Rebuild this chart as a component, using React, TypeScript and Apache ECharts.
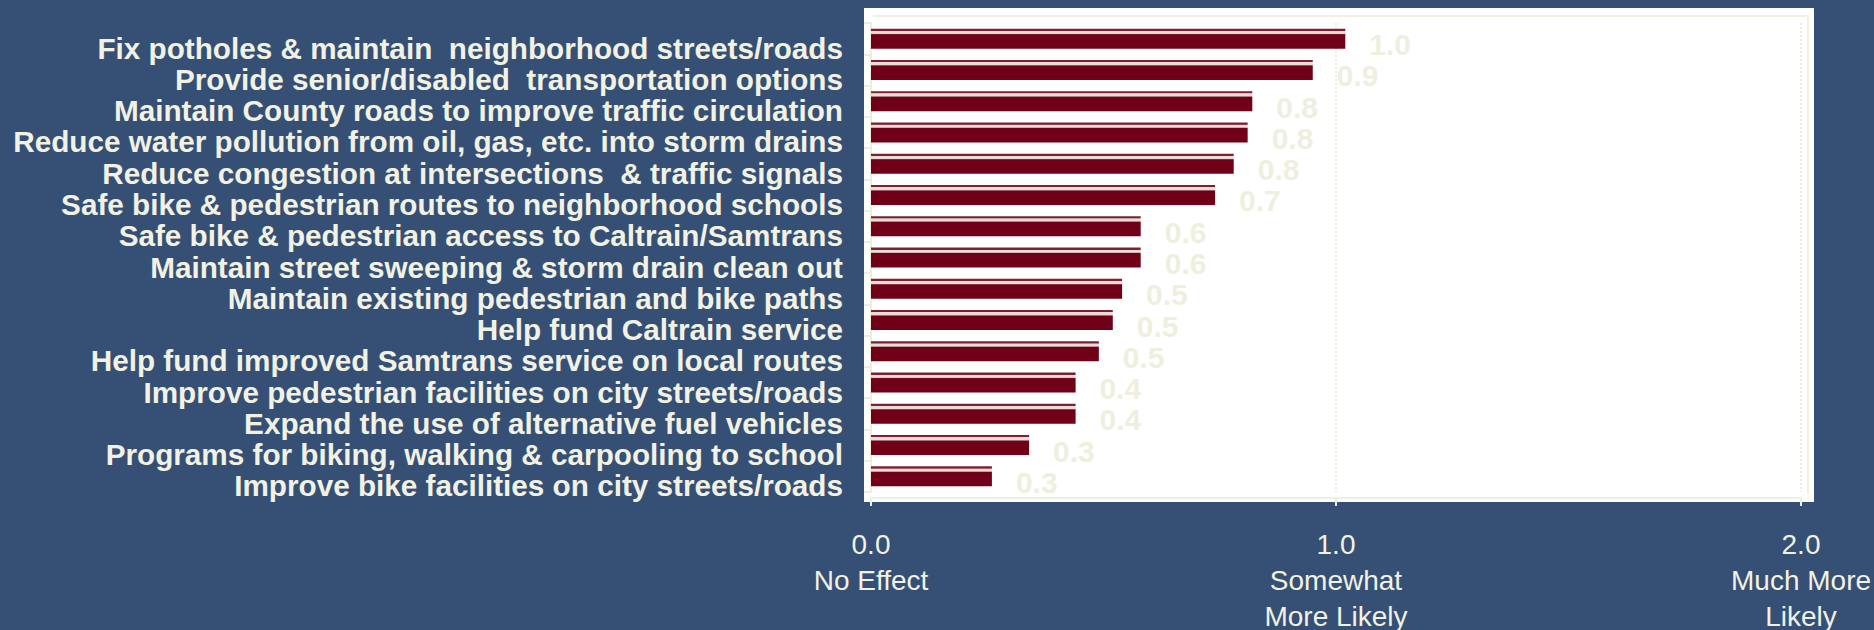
import React, { useEffect, useRef } from "react";
import * as echarts from "echarts";

const categories = [
  "Fix potholes & maintain  neighborhood streets/roads",
  "Provide senior/disabled  transportation options",
  "Maintain County roads to improve traffic circulation",
  "Reduce water pollution from oil, gas, etc. into storm drains",
  "Reduce congestion at intersections  & traffic signals",
  "Safe bike & pedestrian routes to neighborhood schools",
  "Safe bike & pedestrian access to Caltrain/Samtrans",
  "Maintain street sweeping & storm drain clean out",
  "Maintain existing pedestrian and bike paths",
  "Help fund Caltrain service",
  "Help fund improved Samtrans service on local routes",
  "Improve pedestrian facilities on city streets/roads",
  "Expand the use of alternative fuel vehicles",
  "Programs for biking, walking & carpooling to school",
  "Improve bike facilities on city streets/roads",
];

const values = [1.02, 0.95, 0.82, 0.81, 0.78, 0.74, 0.58, 0.58, 0.54, 0.52, 0.49, 0.44, 0.44, 0.34, 0.26];

const xTickValues = [0, 1, 2];
const xTickLabels = ["0.0\nNo Effect", "1.0\nSomewhat\nMore Likely", "2.0\nMuch More\nLikely"];

const BG = "#355074";
const CREAM = "#F2F2E4";
const FONT = "'Liberation Sans', Arial, sans-serif";

export default function App() {
  const ref = useRef<HTMLDivElement>(null);

  useEffect(() => {
    document.body.style.margin = "0";
    const chart = echarts.init(ref.current!, null, { renderer: "svg" });

    const barGradient = new echarts.graphic.LinearGradient(0, 0, 0, 1, [
      { offset: 0, color: "#7a2233" },
      { offset: 0.1, color: "#7a2233" },
      { offset: 0.12, color: "#e9dcd6" },
      { offset: 0.24, color: "#e9dcd6" },
      { offset: 0.27, color: "#a7707a" },
      { offset: 0.3, color: "#6f0017" },
      { offset: 1, color: "#6f0017" },
    ]);

    chart.setOption({
      animation: false,
      backgroundColor: BG,
      textStyle: { fontFamily: FONT },
      graphic: [
        {
          type: "rect",
          z: -10,
          shape: { x: 864, y: 8, width: 950, height: 494 },
          style: { fill: "#ffffff" },
          silent: true,
        },
        {
          type: "polyline",
          z: -9,
          shape: { points: [[873, 16], [1808, 16], [1808, 494]] },
          style: { stroke: "#F0F0E2", lineWidth: 2, fill: "none" },
          silent: true,
        },
      ],
      grid: {
        left: 871,
        right: 73,
        top: 23,
        bottom: 138,
        containLabel: false,
        outerBoundsMode: "none",
      },
      xAxis: {
        type: "value",
        min: 0,
        max: 2,
        interval: 1,
        offset: 6,
        axisLine: { show: true, lineStyle: { color: "#F0F0E2", width: 2 } },
        axisTick: { show: true, length: 8, lineStyle: { color: "#F0F0E2", width: 2 } },
        splitLine: {
          show: true,
          lineStyle: { color: "#EDEDDA", type: "dotted", width: 2 },
        },
        axisLabel: {
          color: CREAM,
          fontSize: 28,
          lineHeight: 36,
          margin: 28,
          fontFamily: FONT,
          formatter: (v: number) => {
            const i = xTickValues.indexOf(Math.round(v));
            return i >= 0 ? xTickLabels[i] : "";
          },
        },
      },
      yAxis: {
        type: "category",
        data: categories,
        inverse: true,
        axisLine: { show: true, lineStyle: { color: "#EDEDDA", width: 2 } },
        axisTick: { show: true, length: 7, alignWithLabel: false, lineStyle: { color: "#EDEDDA", width: 2 } },
        axisLabel: {
          interval: 0,
          hideOverlap: false,
          color: CREAM,
          fontSize: 29.7,
          fontWeight: "bold",
          fontFamily: FONT,
          margin: 28,
          verticalAlign: "top",
          lineHeight: 19,
        },
      },
      series: [
        {
          type: "bar",
          data: values,
          barWidth: 20,
          itemStyle: { color: barGradient },
          label: {
            show: true,
            position: "right",
            distance: 24,
            offset: [0, 6],
            color: "#EFEFE0",
            fontSize: 30,
            fontWeight: "bold",
            fontFamily: FONT,
            formatter: (p: any) => Number(p.value).toFixed(1),
          },
        },
      ],
    });

    return () => chart.dispose();
  }, []);

  return <div ref={ref} style={{ width: 1874, height: 630, background: BG }} />;
}
